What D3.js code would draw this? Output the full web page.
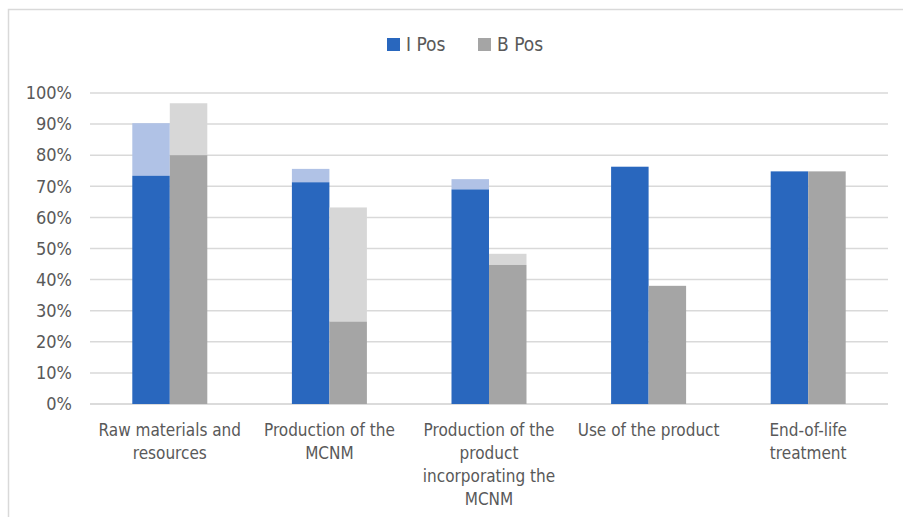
<!DOCTYPE html>
<html><head><meta charset="utf-8">
<script src="https://cdn.jsdelivr.net/npm/d3@7/dist/d3.min.js"></script>
<style>
body{margin:0;background:#fff;}
text{font-family:"Liberation Sans Narrow","DejaVu Sans Condensed","Arial Narrow",sans-serif;fill:#595959;}
</style></head>
<body><svg id="c" width="903" height="517"></svg>
<script>
const categories = [
  ["Raw materials and","resources"],
  ["Production of the","MCNM"],
  ["Production of the","product","incorporating the","MCNM"],
  ["Use of the product"],
  ["End-of-life","treatment"]
];
const seriesNames = ["I Pos","B Pos"];
const iPosBase = [0.734, 0.713, 0.690, 0.763, 0.748];
const iPosTop  = [0.903, 0.756, 0.723, 0.763, 0.748];
const bPosBase = [0.800, 0.265, 0.447, 0.380, 0.748];
const bPosTop  = [0.967, 0.632, 0.483, 0.380, 0.748];
const yTicks = [0,0.1,0.2,0.3,0.4,0.5,0.6,0.7,0.8,0.9,1.0];

const colors = {I:"#2967be", Ilight:"#b0c2e6", B:"#a5a5a5", Blight:"#d7d7d7"};

const svg = d3.select("#c");
// frame
svg.append("rect").attr("x",8.5).attr("y",9.5).attr("width",920).attr("height",540)
  .attr("fill","none").attr("stroke","#d9d9d9").attr("stroke-width",1.5);

const x0 = d3.scaleBand().domain(d3.range(categories.length)).range([90,888]).paddingInner(0).paddingOuter(0);
const barW = 37.5;
const y = d3.scaleLinear().domain([0,1]).range([404,93]);

// gridlines
svg.append("g").selectAll("line").data(yTicks).join("line")
  .attr("x1",90).attr("x2",888)
  .attr("y1",d=>y(d)).attr("y2",d=>y(d))
  .attr("stroke",d=>d===0?"#cfcfcf":"#d9d9d9").attr("stroke-width",1.5);

// y axis labels
const yAxis = d3.axisLeft(y).tickValues(yTicks).tickFormat(d3.format(".0%")).tickSize(0).tickPadding(0);
const ga = svg.append("g").attr("transform","translate(72,0)").call(yAxis);
ga.select(".domain").remove();
ga.selectAll("text").attr("font-size",18).attr("fill","#595959")
  .style("font-family",'"Liberation Sans Narrow","DejaVu Sans Condensed",sans-serif');

// bars
const g = svg.append("g");
categories.forEach((c,i)=>{
  const cx = x0(i) + x0.bandwidth()/2;
  const xi = cx - barW, xb = cx;
  // I Pos
  g.append("rect").attr("x",xi).attr("width",barW).attr("y",y(iPosTop[i])).attr("height",y(iPosBase[i])-y(iPosTop[i])).attr("fill",colors.Ilight);
  g.append("rect").attr("x",xi).attr("width",barW).attr("y",y(iPosBase[i])).attr("height",y(0)-y(iPosBase[i])).attr("fill",colors.I);
  // B Pos
  g.append("rect").attr("x",xb).attr("width",barW).attr("y",y(bPosTop[i])).attr("height",y(bPosBase[i])-y(bPosTop[i])).attr("fill",colors.Blight);
  g.append("rect").attr("x",xb).attr("width",barW).attr("y",y(bPosBase[i])).attr("height",y(0)-y(bPosBase[i])).attr("fill",colors.B);
});

// category labels
const gl = svg.append("g");
categories.forEach((lines,i)=>{
  const cx = x0(i) + x0.bandwidth()/2;
  const t = gl.append("text").attr("text-anchor","middle").attr("font-size",17);
  lines.forEach((ln,k)=>{
    t.append("tspan").attr("x",cx).attr("y",436 + k*23).text(ln);
  });
});

// legend
const leg = svg.append("g");
const legItems = [{n:seriesNames[0],c:colors.I,x:387},{n:seriesNames[1],c:colors.B,x:478}];
legItems.forEach(d=>{
  leg.append("rect").attr("x",d.x).attr("y",38).attr("width",13).attr("height",13).attr("fill",d.c);
  leg.append("text").attr("x",d.x+19).attr("y",51).attr("font-size",19).text(d.n);
});
</script></body></html>
